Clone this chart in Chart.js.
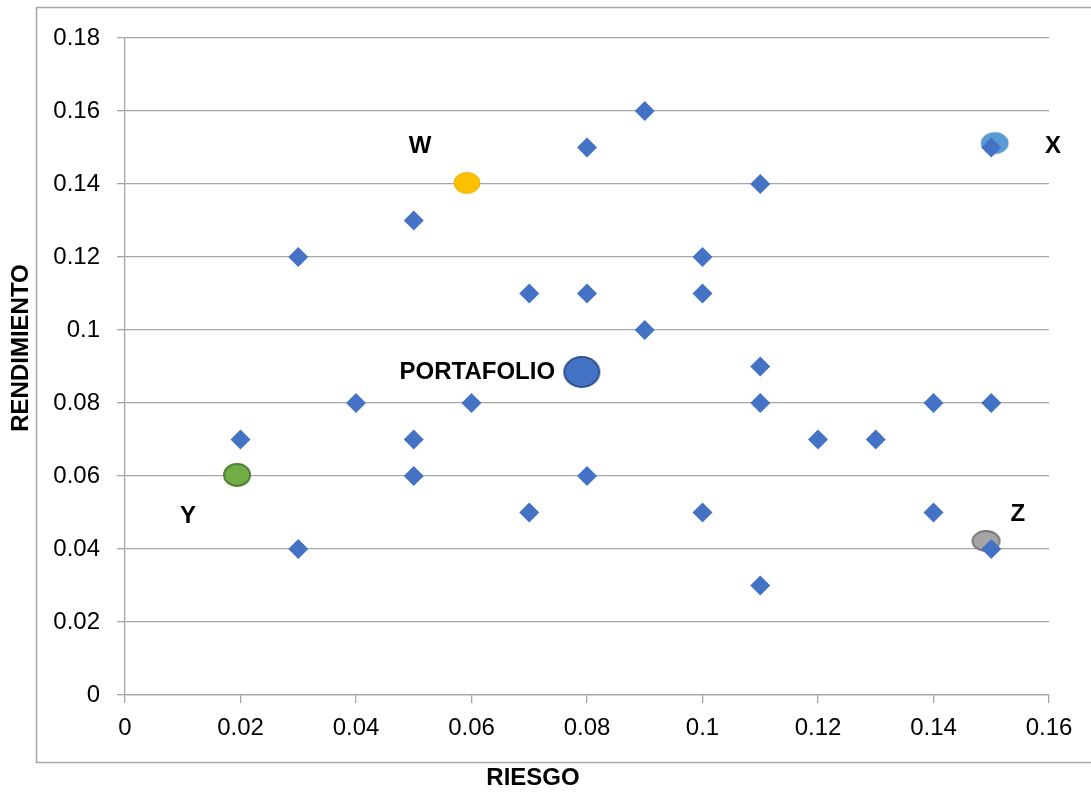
<!DOCTYPE html>
<html lang="es">
<head>
    <meta charset="UTF-8">
    <title>Riesgo vs Rendimiento</title>
    <script src="https://cdn.jsdelivr.net/npm/chart.js"></script>
    <style>
        html, body {
            margin: 0;
            padding: 0;
            background: #fff;
        }

        #chart-div {
            width: 1091px;
            height: 793px;
        }
    </style>
</head>
<body>

    <div id="chart-div">
        <canvas id="chart" width="1091" height="793"></canvas>
    </div>

    <script>
        // blue diamonds: riesgo / rendimiento
        const riesgo = [0.02, 0.03, 0.03, 0.04, 0.05, 0.05, 0.05, 0.06, 0.07, 0.07,
                        0.08, 0.08, 0.08, 0.09, 0.09, 0.10, 0.10, 0.10, 0.11, 0.11,
                        0.11, 0.11, 0.12, 0.13, 0.14, 0.14, 0.15, 0.15, 0.15];
        const rendimiento = [0.07, 0.12, 0.04, 0.08, 0.13, 0.07, 0.06, 0.08, 0.11, 0.05,
                             0.15, 0.11, 0.06, 0.16, 0.10, 0.12, 0.11, 0.05, 0.14, 0.09,
                             0.08, 0.03, 0.07, 0.07, 0.08, 0.05, 0.15, 0.08, 0.04];

        // highlighted points
        const specialNames = ['W', 'X', 'Y', 'Z', 'PORTAFOLIO'];
        const specialRiesgo = [0.0592, 0.1506, 0.0194, 0.1491, 0.0791];
        const specialRend = [0.1403, 0.1512, 0.0603, 0.0422, 0.0885];

        // where the letters sit (data units)
        const labelRiesgo = [0.0511, 0.1607, 0.0109, 0.1546, 0.0610];
        const labelRend = [0.1504, 0.1504, 0.0490, 0.0496, 0.0885];

        const xTicks = [0, 0.02, 0.04, 0.06, 0.08, 0.10, 0.12, 0.14, 0.16];
        const yTicks = [0, 0.02, 0.04, 0.06, 0.08, 0.10, 0.12, 0.14, 0.16, 0.18];

        function ellipse(w, h, fill, stroke, lw) {
            const c = document.createElement('canvas');
            c.width = w + 4;
            c.height = h + 4;
            const g = c.getContext('2d');
            g.beginPath();
            g.ellipse(c.width / 2, c.height / 2, w / 2, h / 2, 0, 0, Math.PI * 2);
            g.fillStyle = fill;
            g.fill();
            if (lw) {
                g.lineWidth = lw;
                g.strokeStyle = stroke;
                g.stroke();
            }
            return c;
        }

        const markers = [
            ellipse(26, 21, '#FFC000', '#E8AE00', 1),
            ellipse(27, 21, '#5B9BD5', '#4F8CC6', 1),
            ellipse(26, 22, '#70AD47', '#507E32', 2),
            ellipse(27, 20, '#A5A5A5', '#787878', 2),
            ellipse(35, 30, '#4472C4', '#2F528F', 2)
        ];

        const fmt = v => String(Number(v.toFixed(2)));

        const frameAndText = {
            id: 'frameAndText',
            beforeDraw(chart) {
                const c = chart.ctx;
                c.save();
                c.fillStyle = '#fff';
                c.fillRect(0, 0, chart.width, chart.height);
                c.strokeStyle = '#A6A6A6';
                c.lineWidth = 1.5;
                c.strokeRect(36.5, 7.5, chart.width, 755);
                c.restore();
            },
            afterDraw(chart) {
                const c = chart.ctx;
                const xs = chart.scales.x, ys = chart.scales.y;
                c.save();
                c.fillStyle = '#000';
                c.font = 'bold 24px "Liberation Sans", Arial, sans-serif';
                c.textAlign = 'center';
                c.textBaseline = 'middle';
                specialNames.forEach((n, i) => {
                    c.fillText(n, xs.getPixelForValue(labelRiesgo[i]), ys.getPixelForValue(labelRend[i]));
                });
                c.font = 'bold 24px "Liberation Sans", Arial, sans-serif';
                c.fillText('RIESGO', 533, 778);
                c.translate(21, 348);
                c.rotate(-Math.PI / 2);
                c.fillText('RENDIMIENTO', 0, 0);
                c.restore();
            }
        };

        const ctx = document.getElementById('chart').getContext('2d');
        const chart = new Chart(ctx, {
            type: 'scatter',
            data: {
                datasets: [{
                    label: 'Activos',
                    data: riesgo.map((x, i) => ({ x: x, y: rendimiento[i] })),
                    pointStyle: 'rectRot',
                    pointRadius: 10,
                    pointHoverRadius: 10,
                    backgroundColor: '#4472C4',
                    borderColor: '#4472C4',
                    borderWidth: 0
                }, {
                    label: 'Destacados',
                    data: specialRiesgo.map((x, i) => ({ x: x, y: specialRend[i] })),
                    pointStyle: markers,
                    pointRadius: 14,
                    backgroundColor: '#4472C4',
                    borderWidth: 0
                }]
            },
            options: {
                responsive: false,
                animation: false,
                events: [],
                layout: {
                    padding: { top: 38, right: 42, bottom: 0, left: 0 }
                },
                plugins: {
                    legend: { display: false },
                    tooltip: { enabled: false }
                },
                scales: {
                    x: {
                        type: 'linear',
                        min: 0,
                        max: 0.16,
                        afterBuildTicks: s => { s.ticks = xTicks.map(v => ({ value: v })); },
                        afterFit: s => { s.height = 98; },
                        grid: {
                            drawOnChartArea: false,
                            drawTicks: true,
                            tickLength: 8,
                            color: '#A6A6A6',
                            lineWidth: 1.3
                        },
                        border: { color: '#A6A6A6', width: 1.3 },
                        ticks: {
                            callback: v => fmt(v),
                            color: '#000',
                            padding: 11,
                            maxRotation: 0,
                            font: { family: '"Liberation Sans", Arial, sans-serif', size: 24 }
                        }
                    },
                    y: {
                        type: 'linear',
                        min: 0,
                        max: 0.18,
                        afterBuildTicks: s => { s.ticks = yTicks.map(v => ({ value: v })); },
                        afterFit: s => { s.width = 125; },
                        grid: {
                            drawTicks: true,
                            tickLength: 8,
                            color: '#A6A6A6',
                            lineWidth: 1.3
                        },
                        border: { color: '#A6A6A6', width: 1.3 },
                        ticks: {
                            callback: v => fmt(v),
                            color: '#000',
                            padding: 17,
                            font: { family: '"Liberation Sans", Arial, sans-serif', size: 24 }
                        }
                    }
                }
            },
            plugins: [frameAndText]
        });
    </script>
</body>
</html>
